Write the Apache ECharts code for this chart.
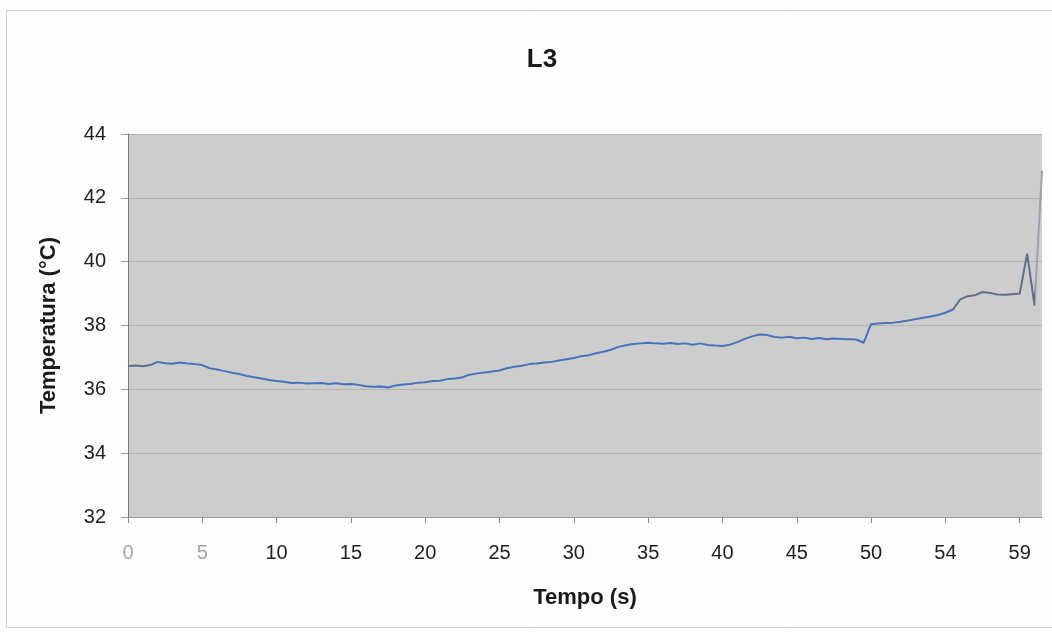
<!DOCTYPE html>
<html>
<head>
<meta charset="utf-8">
<script src="https://cdn.jsdelivr.net/npm/echarts@6/dist/echarts.min.js"></script>
<style>
html,body{margin:0;padding:0;background:#fdfdfd;}
#chart{width:1052px;height:632px;}
</style>
</head>
<body>
<div id="chart"></div>
<script>
// Tick labels shown every 10 samples on the time axis
const tickLabels = ["0","5","10","15","20","25","30","35","40","45","50","54","59"];
const fadedLabels = ["0","5"];
const samplesPerTick = 10;
// Temperature samples (°C)
const temps = [
  36.73,36.75,36.72,36.76,36.86,36.82,36.80,36.84,36.81,36.79,
  36.76,36.66,36.62,36.57,36.52,36.48,36.42,36.38,36.34,36.29,
  36.26,36.24,36.20,36.21,36.18,36.19,36.20,36.17,36.19,36.16,
  36.17,36.14,36.10,36.08,36.09,36.06,36.12,36.15,36.17,36.21,
  36.22,36.26,36.27,36.32,36.34,36.38,36.46,36.50,36.53,36.56,
  36.59,36.66,36.71,36.74,36.79,36.81,36.84,36.86,36.90,36.94,
  36.98,37.04,37.07,37.13,37.18,37.24,37.33,37.38,37.42,37.44,
  37.46,37.44,37.43,37.45,37.42,37.44,37.40,37.44,37.39,37.37,
  37.36,37.40,37.48,37.58,37.66,37.72,37.70,37.64,37.62,37.65,
  37.60,37.62,37.58,37.61,37.57,37.59,37.58,37.57,37.56,37.46,
  38.04,38.06,38.08,38.09,38.12,38.16,38.20,38.24,38.28,38.33,
  38.40,38.50,38.82,38.92,38.95,39.05,39.02,38.97,38.96,38.98,
  39.00,40.25,38.62,42.85
];
const yTicks = [32, 44, 2]; // min, max, step

const categories = temps.map((v, i) => (i % samplesPerTick === 0 && tickLabels[i / samplesPerTick] !== undefined) ? tickLabels[i / samplesPerTick] : '');

const chart = echarts.init(document.getElementById('chart'), null, {renderer: 'canvas'});
const font = "'Liberation Sans', Arial, sans-serif";
chart.setOption({
  backgroundColor: '#fdfdfd',
  animation: false,
  title: {
    text: 'L3',
    left: 537,
    textAlign: 'center',
    top: 42,
    textStyle: {fontFamily: font, fontSize: 26, fontWeight: 'bold', color: '#1a1a1a'}
  },
  graphic: [{
    type: 'rect',
    shape: {x: 6.5, y: 10.5, width: 1060, height: 617},
    style: {fill: 'none', stroke: '#cfcfcf', lineWidth: 1},
    silent: true
  }],
  grid: {left: 128, right: 10, top: 134, bottom: 115, show: true, backgroundColor: '#cdcdcd', borderWidth: 0},
  xAxis: {
    type: 'category',
    data: categories,
    boundaryGap: false,
    name: 'Tempo (s)',
    nameLocation: 'middle',
    nameGap: 70,
    nameTextStyle: {fontFamily: font, fontSize: 22, fontWeight: 'bold', color: '#1a1a1a'},
    axisLine: {lineStyle: {color: '#9a9a9a', width: 1}},
    axisTick: {show: true, interval: samplesPerTick - 1, length: 6, lineStyle: {color: '#8a8a8a'}},
    axisLabel: {
      interval: samplesPerTick - 1,
      margin: 26,
      fontFamily: font,
      fontSize: 20,
      color: function (value) { return fadedLabels.indexOf(String(value)) >= 0 ? '#a6a6a6' : '#1e1e1e'; }
    },
    splitLine: {show: false}
  },
  yAxis: {
    type: 'value',
    min: yTicks[0],
    max: yTicks[1],
    interval: yTicks[2],
    name: 'Temperatura (°C)',
    nameLocation: 'middle',
    nameGap: 68,
    nameRotate: 90,
    nameTextStyle: {fontFamily: font, fontSize: 22, fontWeight: 'bold', color: '#1a1a1a'},
    axisLine: {show: true, lineStyle: {color: '#7a7a7a', width: 1}},
    axisTick: {show: true, length: 7, lineStyle: {color: '#a0a0a0'}},
    axisLabel: {margin: 22, fontFamily: font, fontSize: 20, color: '#1e1e1e'},
    splitLine: {show: true, lineStyle: {color: '#b3b3b3', width: 1}}
  },
  visualMap: {
    type: 'piecewise',
    show: false,
    dimension: 0,
    seriesIndex: 0,
    pieces: [
      {lt: 3.3, color: '#5d6b86'},
      {gte: 3.3, lte: 110.6, color: '#4673bd'},
      {gt: 110.6, lte: 122.2, color: '#5f6f8a'},
      {gt: 122.2, color: '#9ca2aa'}
    ]
  },
  series: [{
    type: 'line',
    data: temps,
    showSymbol: false,
    symbol: 'none',
    lineStyle: {width: 2},
    z: 3
  }]
});
</script>
</body>
</html>
